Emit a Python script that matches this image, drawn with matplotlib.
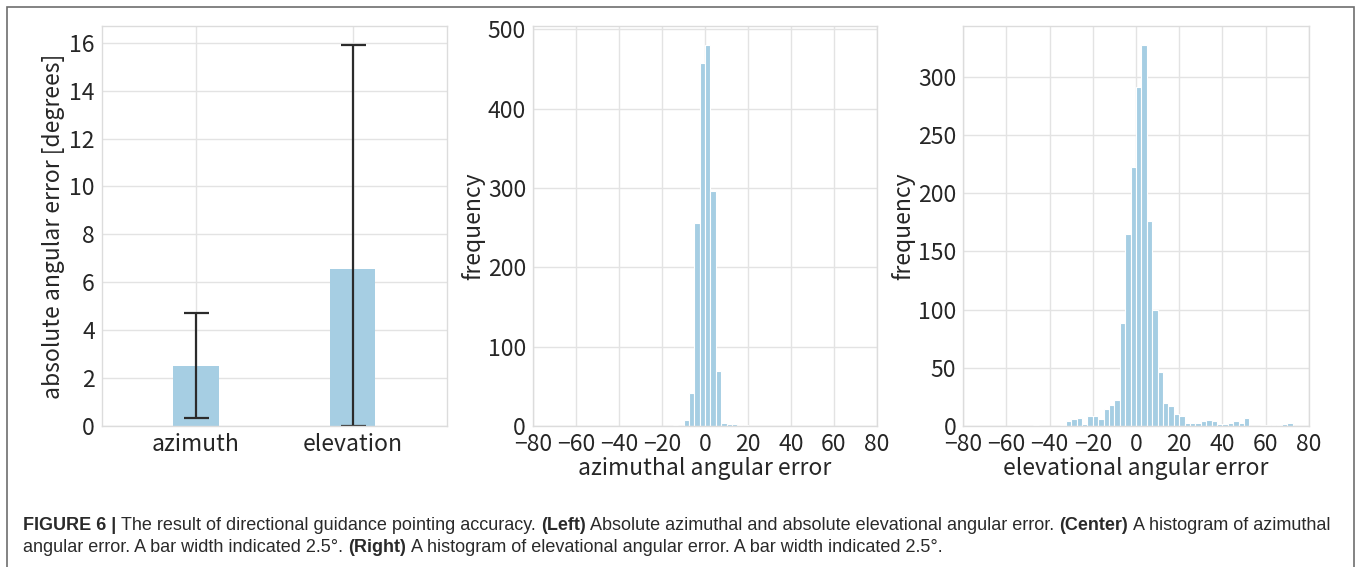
import numpy as np
import matplotlib
matplotlib.use("Agg")
import matplotlib.pyplot as plt
from matplotlib.patches import Rectangle

# ------------------------- data ------------------------------------
bar_labels = ["azimuth", "elevation"]
bar_means = [2.52, 6.54]
err_low = [2.17, 6.54]
err_high = [2.21, 9.36]

bin_width = 2.5
azi_start = -15.0
azi_counts = [1, 0, 7, 41, 256, 458, 480, 296, 69, 4, 3, 2, 1, 1]

ele_start = -47.5
ele_counts = [1, 0, 0, 0, 0, 1, 4, 6, 7, 2, 9, 9, 6, 15, 18, 22, 88, 165, 222,
              291, 327, 176, 100, 46, 20, 17, 10, 9, 3, 3, 3, 4, 5, 4, 2, 2,
              3, 4, 3, 7, 0, 0, 1, 1, 1, 1, 2, 3, 0]

hist_ticks = [-80, -60, -40, -20, 0, 20, 40, 60, 80]

caption_lines = [
    [("FIGURE 6 |", "bold"), ("The result of directional guidance pointing accuracy.", "normal"),
     ("(Left)", "bold"), ("Absolute azimuthal and absolute elevational angular error.", "normal"),
     ("(Center)", "bold"), ("A histogram of azimuthal", "normal")],
    [("angular error. A bar width indicated 2.5°.", "normal"), ("(Right)", "bold"),
     ("A histogram of elevational angular error. A bar width indicated 2.5°.", "normal")],
]

# ------------------------- style ------------------------------------
BLUE = "#a6cee3"
TXT = "#262626"
plt.rcParams["font.family"] = ["Noto Sans CJK JP", "DejaVu Sans"]
plt.rcParams["font.size"] = 16
plt.rcParams["axes.edgecolor"] = "#dcdcdc"
plt.rcParams["axes.linewidth"] = 1.0
plt.rcParams["grid.color"] = "#e3e3e3"
plt.rcParams["grid.linewidth"] = 1.0
plt.rcParams["text.color"] = TXT
plt.rcParams["axes.labelcolor"] = TXT
plt.rcParams["xtick.color"] = TXT
plt.rcParams["ytick.color"] = TXT

W, H = 1358, 567
fig = plt.figure(figsize=(W / 100, H / 100), dpi=100)

def box(x0, x1, top=26, bottom=426):
    return [x0 / W, (H - bottom) / H, (x1 - x0) / W, (bottom - top) / H]

ax1 = fig.add_axes(box(101.7, 446.7))
ax2 = fig.add_axes(box(533, 877))
ax3 = fig.add_axes(box(963.3, 1308.7))

for ax in (ax1, ax2, ax3):
    ax.set_axisbelow(True)
    ax.grid(True)
    ax.tick_params(length=0, pad=5, labelsize=16.5)

# 1) mean absolute error bars
x = np.arange(len(bar_labels))
ax1.bar(x, bar_means, width=0.29, color=BLUE)
ax1.errorbar(x, bar_means, yerr=[err_low, err_high], fmt="none",
             ecolor="#2b2b2b", elinewidth=1.6, capsize=9, capthick=1.6)
ax1.set_xlim(-0.6, 1.6)
ax1.set_ylim(0, 16.7)
ax1.set_yticks(np.arange(0, 17, 2))
ax1.set_xticks(x)
ax1.set_xticklabels(bar_labels)
ax1.set_ylabel("absolute angular error [degrees]", fontsize=16.5, labelpad=3)

# 2) / 3) histograms
def hist(ax, start, counts, xlabel, yticks, ymax):
    edges = start + bin_width * np.arange(len(counts) + 1)
    centers = edges[:-1] + bin_width / 2
    ax.hist(centers, bins=edges, weights=counts, color=BLUE,
            edgecolor="white", linewidth=0.8)
    ax.set_xlim(-80, 80)
    ax.set_ylim(0, ymax)
    ax.set_xticks(hist_ticks)
    ax.set_yticks(yticks)
    ax.set_xlabel(xlabel, fontsize=16.5, labelpad=1)
    ax.set_ylabel("frequency", fontsize=16.5, labelpad=2)

hist(ax2, azi_start, azi_counts, "azimuthal angular error", np.arange(0, 501, 100), max(azi_counts) * 1.05)
hist(ax3, ele_start, ele_counts, "elevational angular error", np.arange(0, 301, 50), max(ele_counts) * 1.05)

# ------------------------- frame + caption ------------------------------------
fig.patches.append(Rectangle((7 / W, -0.05), (1354 - 7) / W, (H - 6.5) / H + 0.05,
                             transform=fig.transFigure, fill=False,
                             edgecolor="#6e6e6e", linewidth=1.2))

renderer = fig.canvas.get_renderer()
cap_kw = dict(fontsize=13, family=["Liberation Sans", "DejaVu Sans"], color="#2a2a2a")

def width_px(s, weight):
    t = fig.text(0, 0, s, fontweight=weight, **cap_kw)
    w = t.get_window_extent(renderer).width
    t.remove()
    return w

space = width_px("a a", "normal") - width_px("aa", "normal")
for line, ybase in zip(caption_lines, [529.5, 552.5]):
    xpos = 22.7
    for s, weight in line:
        t = fig.text(xpos / W, (H - ybase) / H, s, fontweight=weight,
                     va="baseline", **cap_kw)
        xpos += t.get_window_extent(renderer).width + space

fig.savefig("out.png", dpi=100)
